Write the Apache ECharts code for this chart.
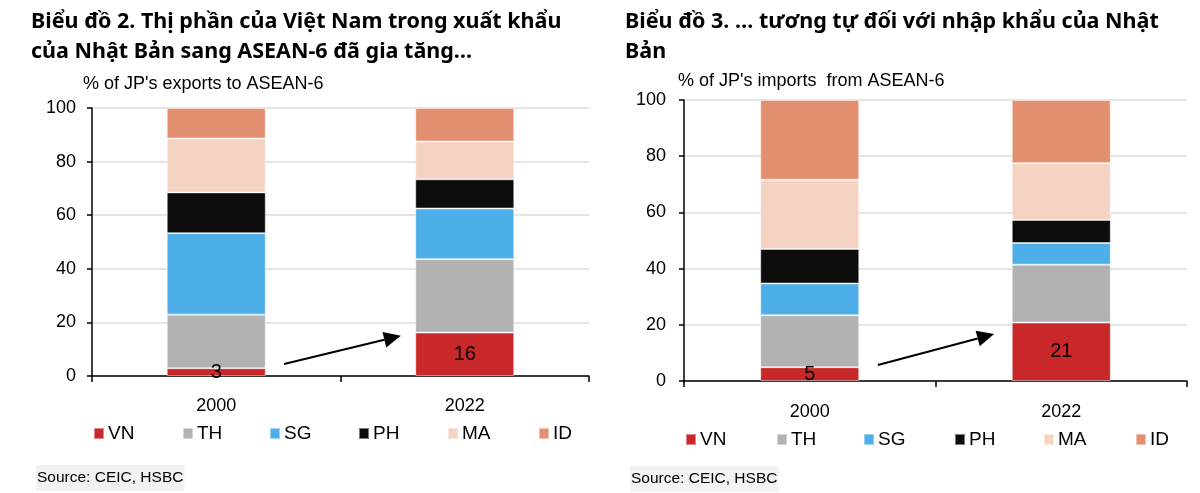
<!DOCTYPE html>
<html><head><meta charset="utf-8">
<script src="https://cdn.jsdelivr.net/npm/echarts@6/dist/echarts.min.js"></script>
<style>html,body{margin:0;padding:0;background:#fff}#c{width:1200px;height:493px}</style>
</head><body><div id="c"></div>
<script>
const categories = ['2000', '2022'];
const seriesNames = ['VN', 'TH', 'SG', 'PH', 'MA', 'ID'];
const colors = ['#c9282a', '#b2b2b2', '#4eaee8', '#0d0d0d', '#f4d3c2', '#e39070'];
// exports shares (2000, 2022)
const expVN = [2.9, 16.2];
const expTH = [20.0, 27.4];
const expSG = [30.4, 18.9];
const expPH = [15.2, 10.9];
const expMA = [20.1, 14.1];
const expID = [11.4, 12.5];
// imports shares (2000, 2022)
const impVN = [4.9, 20.8];
const impTH = [18.5, 20.6];
const impSG = [11.3, 7.7];
const impPH = [12.3, 8.2];
const impMA = [24.6, 20.2];
const impID = [28.4, 22.5];
const vnLabelsExp = ['3', '16'];
const vnLabelsImp = ['5', '21'];
const yTicks = [0, 20, 40, 60, 80, 100];
// arrow annotations: [fraction of the way from 2000 to 2022 category, y (%)]
const arrowExp = [[0.273, 4.5], [0.743, 15.0]];
const arrowImp = [[0.271, 5.7], [0.733, 16.7]];

const expData = [expVN, expTH, expSG, expPH, expMA, expID];
const impData = [impVN, impTH, impSG, impPH, impMA, impID];

const chart = echarts.init(document.getElementById('c'));
const FF = 'Liberation Sans, Arial';
const axisFont = {fontFamily: FF, fontSize: 18, color: '#000'};

function yAxisCfg(gi, margin) {
  return {
    type: 'value', gridIndex: gi, min: yTicks[0], max: yTicks[yTicks.length - 1], interval: 20,
    axisLine: {show: true, lineStyle: {color: '#000', width: 1.5}},
    axisTick: {show: true, length: 5, lineStyle: {color: '#000', width: 1.5}},
    axisLabel: Object.assign({margin: margin}, axisFont),
    splitLine: {show: true, lineStyle: {color: '#dcdcdc', width: 1.5}}
  };
}
function xAxisCfg(gi, margin) {
  return {
    type: 'category', gridIndex: gi, data: categories,
    axisLine: {show: true, lineStyle: {color: '#000', width: 1.5}},
    axisTick: {show: true, length: 6, lineStyle: {color: '#000', width: 1.5}},
    axisLabel: Object.assign({margin: margin}, axisFont),
    splitLine: {show: false}
  };
}

const series = [];
[[expData, 0, vnLabelsExp, 'e'], [impData, 1, vnLabelsImp, 'i']].forEach(([data, gi, labs, st]) => {
  seriesNames.forEach((n, k) => {
    const s = {
      name: n, type: 'bar', stack: st, xAxisIndex: gi, yAxisIndex: gi,
      barWidth: 99,
      itemStyle: {color: colors[k], borderColor: 'rgba(255,255,255,0.45)', borderWidth: 1},
      data: data[k]
    };
    if (k === 0) {
      s.label = {show: true, position: 'inside', color: '#000', fontSize: 20,
        fontFamily: FF, formatter: p => labs[p.dataIndex]};
    }
    series.push(s);
  });
});

const legends = [];
const legLeft = [[88, 177, 264, 353, 442, 533], [680, 771, 858, 949, 1038, 1130]];
const legTop = [419, 425];
[0, 1].forEach(c => {
  seriesNames.forEach((n, k) => {
    legends.push({
      data: [n], left: legLeft[c][k], top: legTop[c], itemWidth: 10, itemHeight: 11, itemGap: 0,
      icon: 'rect', selectedMode: false,
      textStyle: {fontFamily: FF, fontSize: 19, color: '#000', padding: [0, 0, 0, -1]}
    });
  });
});

const titleFont = {fontFamily: 'Noto Sans', fontWeight: 'bold', fontSize: 21.5, color: '#000', lineHeight: 30};
const subFont = {fontFamily: FF, fontSize: 18, fontWeight: 'normal', color: '#000'};
const srcFont = {fontFamily: FF, fontSize: 15.5, fontWeight: 'normal', color: '#000'};
chart.setOption({
  animation: false,
  backgroundColor: '#fff',
  title: [
    {text: 'Biểu đồ 2. Thị phần của Việt Nam trong xuất khẩu\ncủa Nhật Bản sang ASEAN-6 đã gia tăng…', left: 31, top: 7, padding: 0, textStyle: titleFont},
    {text: 'Biểu đồ 3. … tương tự đối với nhập khẩu của Nhật\nBản', left: 625, top: 7, padding: 0, textStyle: titleFont},
    {text: "% of JP's exports to ASEAN-6", left: 83, top: 75, padding: 0, textStyle: subFont},
    {text: "% of JP's imports  from ASEAN-6", left: 678, top: 72, padding: 0, textStyle: subFont},
    {text: 'Source: CEIC, HSBC', left: 36, top: 465, padding: [5, 1, 5, 1], backgroundColor: '#f2f2f2', textStyle: srcFont},
    {text: 'Source: CEIC, HSBC', left: 630, top: 466, padding: [5, 1, 5, 1], backgroundColor: '#f2f2f2', textStyle: srcFont}
  ],
  legend: legends,
  grid: [
    {left: 92, top: 108, width: 497, height: 268},
    {left: 684, top: 100, width: 503, height: 281}
  ],
  xAxis: [xAxisCfg(0, 21), xAxisCfg(1, 22)],
  yAxis: [yAxisCfg(0, 16), yAxisCfg(1, 18)],
  series: series
});

// arrows drawn through the library's coordinate conversion
function toPx(gi, pt) {
  const a = chart.convertToPixel({xAxisIndex: gi, yAxisIndex: gi}, [categories[0], pt[1]]);
  const b = chart.convertToPixel({xAxisIndex: gi, yAxisIndex: gi}, [categories[1], pt[1]]);
  return [a[0] + pt[0] * (b[0] - a[0]), a[1]];
}
function arrowGraphic(arr, gi) {
  const p0 = toPx(gi, arr[0]);
  const p1 = toPx(gi, arr[1]);
  const dx = p1[0] - p0[0], dy = p1[1] - p0[1];
  const len = Math.sqrt(dx * dx + dy * dy);
  const ux = dx / len, uy = dy / len;
  const headL = 17, headW = 8;
  const bx = p1[0] - ux * headL, by = p1[1] - uy * headL;
  return [
    {type: 'line', silent: true, shape: {x1: p0[0], y1: p0[1], x2: bx, y2: by}, style: {stroke: '#000', lineWidth: 2}},
    {type: 'polygon', silent: true, shape: {points: [[p1[0], p1[1]], [bx - uy * headW, by + ux * headW], [bx + uy * headW, by - ux * headW]]}, style: {fill: '#000'}}
  ];
}
chart.setOption({graphic: arrowGraphic(arrowExp, 0).concat(arrowGraphic(arrowImp, 1))});
</script></body></html>
